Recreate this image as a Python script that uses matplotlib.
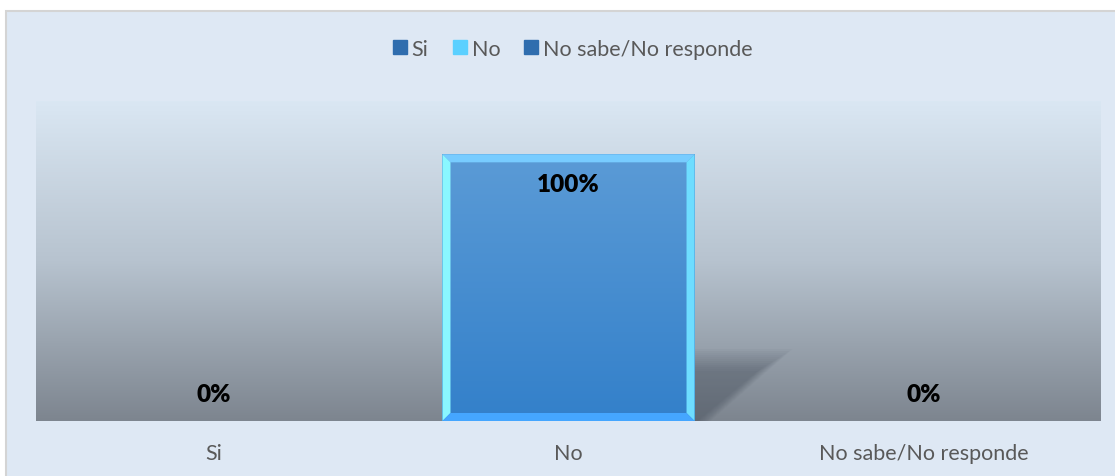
import numpy as np
import matplotlib
matplotlib.use("Agg")
import matplotlib.pyplot as plt
from matplotlib.patches import Rectangle, Polygon
from matplotlib.colors import LinearSegmentedColormap, to_rgb
from matplotlib.lines import Line2D

plt.rcParams['font.family'] = ['Lato', 'DejaVu Sans']

categories = ["Si", "No", "No sabe/No responde"]
values = [0, 100, 0]
labels = ["0%", "100%", "0%"]
legend_colors = ["#2F6DAE", "#5BD0FF", "#2F6DAE"]

W, H = 1115, 477
fig = plt.figure(figsize=(W / 100, H / 100), dpi=100)
fig.patch.set_facecolor("white")

# chart area background with border
bg = Rectangle((6 / W, -0.1), 1.2, (H - 12) / H + 0.1,
               transform=fig.transFigure, facecolor="#DEE8F4",
               edgecolor="#D4D4D4", linewidth=1.5, zorder=-10)
fig.add_artist(bg)

ax = fig.add_axes([36 / W, 1 - 422 / H, (1101 - 36) / W, (422 - 102) / H])
ax.set_zorder(1)
ax.patch.set_visible(False)
ax.set_xlim(-0.5, 2.5)
ax.set_ylim(0, 120)

# gradient plot area
top = np.array(to_rgb("#DAE7F3"))
mid = np.array(to_rgb("#B7C3CF"))
bot = np.array(to_rgb("#7D858F"))
cmap_bg = LinearSegmentedColormap.from_list("bg", [bot, mid, top])
grad = np.linspace(0, 1, 256).reshape(-1, 1)
ax.imshow(grad, aspect="auto", cmap=cmap_bg, origin="lower",
          extent=[0, 1, 0, 1], transform=ax.transAxes, zorder=0)

bar_w = 0.71
x = np.arange(len(categories))
bars = ax.bar(x, values, width=bar_w, color="none", zorder=3)
ax.set_xlim(-0.5, 2.5)
ax.set_ylim(0, 120)

fig.canvas.draw()
to_disp = ax.transData
to_data = ax.transData.inverted()
bev = 8  # px

cmap_bar = LinearSegmentedColormap.from_list("bar", ["#3380CA", "#5B9BD6"])
for b in bars:
    h = b.get_height()
    if h <= 0:
        continue
    x0, y0 = b.get_x(), b.get_y()
    x1, y1 = x0 + b.get_width(), y0 + h
    (dx0, dy0) = to_disp.transform((x0, y0))
    (dx1, dy1) = to_disp.transform((x1, y1))
    ix0, iy0 = to_data.transform((dx0 + bev, dy0 + bev))
    ix1, iy1 = to_data.transform((dx1 - bev, dy1 - bev))
    # soft shadow (layered)
    sx0, sy0 = to_data.transform((dx1, dy0))
    for k in range(0, 24, 2):
        p1 = to_data.transform((dx1, dy0 + 72 - k))
        p2 = to_data.transform((dx1 + 98 - k * 1.6, dy0 + 72 - k))
        p3 = to_data.transform((dx1 + 16 - k * 0.6, dy0))
        ax.add_patch(Polygon([(sx0, sy0), p1, p2, p3], closed=True,
                             facecolor="#3A4350", edgecolor="none", alpha=0.035, zorder=1))
    # face gradient
    ax.imshow(grad, aspect="auto", cmap=cmap_bar, origin="lower",
              extent=[x0, x1, y0, y1], zorder=2)
    # bevels
    ax.add_patch(Polygon([(x0, y1), (x1, y1), (ix1, iy1), (ix0, iy1)],
                         facecolor="#78CCFF", edgecolor="none", zorder=4))
    ax.add_patch(Polygon([(x0, y0), (x0, y1), (ix0, iy1), (ix0, iy0)],
                         facecolor="#8AF7FF", edgecolor="none", zorder=4))
    ax.add_patch(Polygon([(x1, y0), (x1, y1), (ix1, iy1), (ix1, iy0)],
                         facecolor="#6EDDFF", edgecolor="none", zorder=4))
    ax.add_patch(Polygon([(x0, y0), (x1, y0), (ix1, iy0), (ix0, iy0)],
                         facecolor="#45A6FF", edgecolor="none", zorder=4))

ax.set_xlim(-0.5, 2.5)
ax.set_ylim(0, 120)

for xi, v, lab in zip(x, values, labels):
    off = -30 if v > 0 else 27
    ax.annotate(lab, (xi, v), xytext=(0, off), textcoords="offset pixels",
                ha="center", va="center", fontsize=17.5, fontweight="heavy",
                color="black", zorder=6)

ax.set_xticks(x)
ax.set_xticklabels(categories, fontsize=15.5, color="#595959")
ax.tick_params(axis="x", length=0, pad=16)
ax.set_yticks([])
for s in ax.spines.values():
    s.set_visible(False)

handles = [Line2D([0], [0], marker="s", linestyle="none", markersize=10,
                  markerfacecolor=c, markeredgecolor=c) for c in legend_colors]
fig.legend(handles, categories, loc="center", bbox_to_anchor=(572 / W, 1 - 50 / H),
           ncol=3, frameon=False, fontsize=15.5, labelcolor="#595959",
           handletextpad=0.15, columnspacing=1.05, handlelength=0.8)

fig.savefig("out.png", dpi=100)
